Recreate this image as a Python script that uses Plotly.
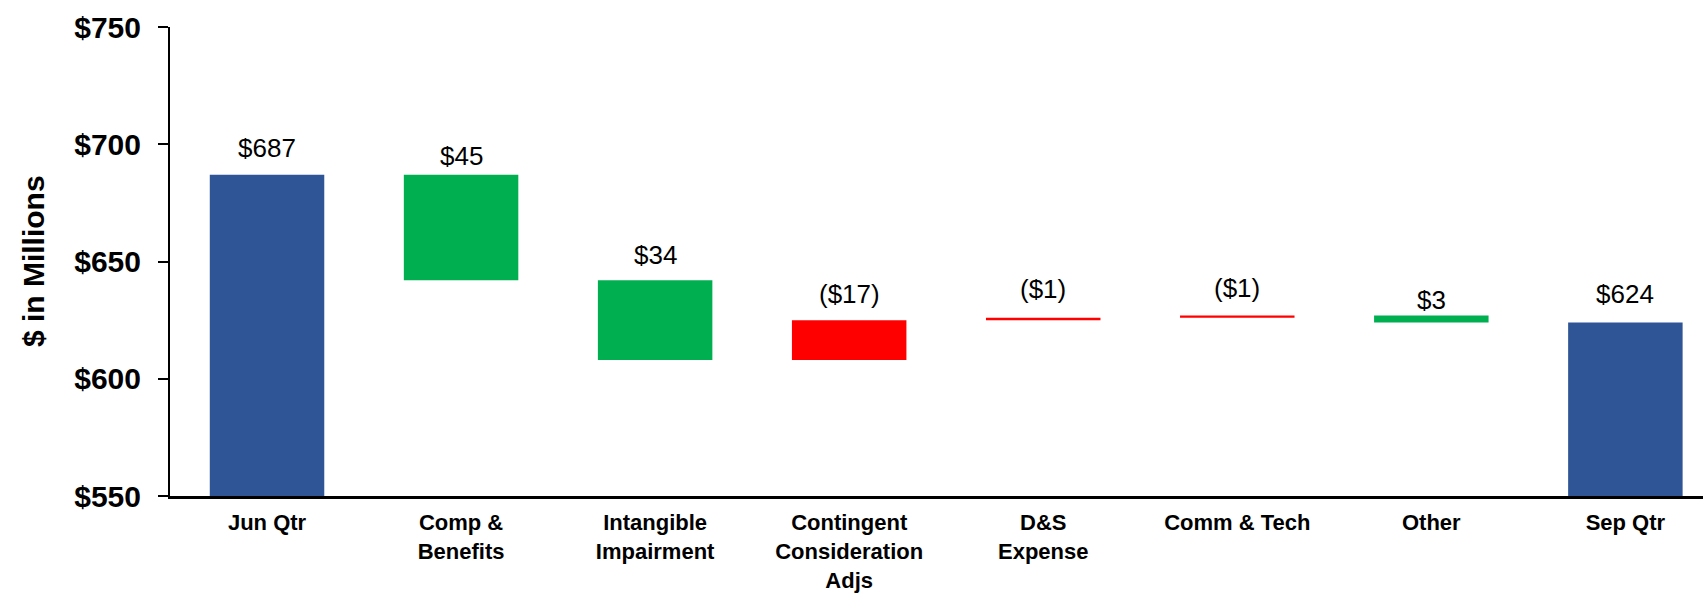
import plotly.graph_objects as go

categories = ["Jun Qtr", "Comp &<br>Benefits", "Intangible<br>Impairment",
              "Contingent<br>Consideration<br>Adjs", "D&S<br>Expense",
              "Comm & Tech", "Other", "Sep Qtr"]
measures = ["absolute", "relative", "relative", "relative", "relative",
            "relative", "relative", "total"]
changes = [687, -45, -34, 17, 1, 1, -3, 0]
labels = ["$687", "$45", "$34", "($17)", "($1)", "($1)", "$3", "$624"]
label_shift = [10, 2, 8, 9, 12, 10, -2, 11]

yticks = [550, 600, 650, 700, 750]
ytick_text = ["$550", "$600", "$650", "$700", "$750"]

BLUE = "#2F5597"
GREEN = "#00B050"
RED = "#FF0000"
FONT = "Liberation Sans, Arial"

fig = go.Figure()
fig.add_trace(go.Waterfall(
    x=categories,
    measure=measures,
    y=changes,
    increasing=dict(marker=dict(color=RED, line=dict(width=0))),
    decreasing=dict(marker=dict(color=GREEN, line=dict(width=0))),
    totals=dict(marker=dict(color=BLUE, line=dict(width=0))),
    connector=dict(visible=False),
    textinfo="none",
    hoverinfo="skip",
    showlegend=False,
))

# running tops of bars for label placement
tops = []
running = 0
for m, v in zip(measures, changes):
    if m == "absolute":
        running = v
        tops.append(v)
    elif m == "total":
        tops.append(running)
    else:
        start = running
        running = running + v
        tops.append(max(start, running))

for cat, top, lab, sh in zip(categories, tops, labels, label_shift):
    fig.add_annotation(x=cat, y=top, text=lab, showarrow=False,
                       yanchor="bottom", yshift=sh,
                       font=dict(family=FONT, size=26, color="#000000"))

fig.add_annotation(xref="paper", yref="paper", x=-0.089, y=0.5,
                   text="<b>$ in Millions</b>", textangle=-90, showarrow=False,
                   xanchor="center", yanchor="middle",
                   font=dict(family=FONT, size=30, color="#000000"))

fig.update_layout(
    width=1703, height=595,
    margin=dict(l=170, r=0, t=27, b=99),
    paper_bgcolor="white", plot_bgcolor="white",
    waterfallgap=0.41,
    font=dict(family=FONT, color="#000000"),
)
fig.update_xaxes(
    range=[-0.5, 7.4],
    automargin=False,
    showline=True, linecolor="#000000", linewidth=3,
    ticks="", showgrid=False,
    tickfont=dict(family=FONT, size=22, color="#000000", weight="bold"),
    ticklabelstandoff=5,
)
fig.update_yaxes(
    range=[550, 750],
    automargin=False,
    tickvals=yticks, ticktext=ytick_text,
    showline=True, linecolor="#000000", linewidth=2,
    ticks="outside", ticklen=10, tickwidth=2, tickcolor="#000000",
    showgrid=False, zeroline=False,
    tickfont=dict(family=FONT, size=30, color="#000000", weight="bold"),
    ticklabelstandoff=11,
)

fig.write_html("out.html")
